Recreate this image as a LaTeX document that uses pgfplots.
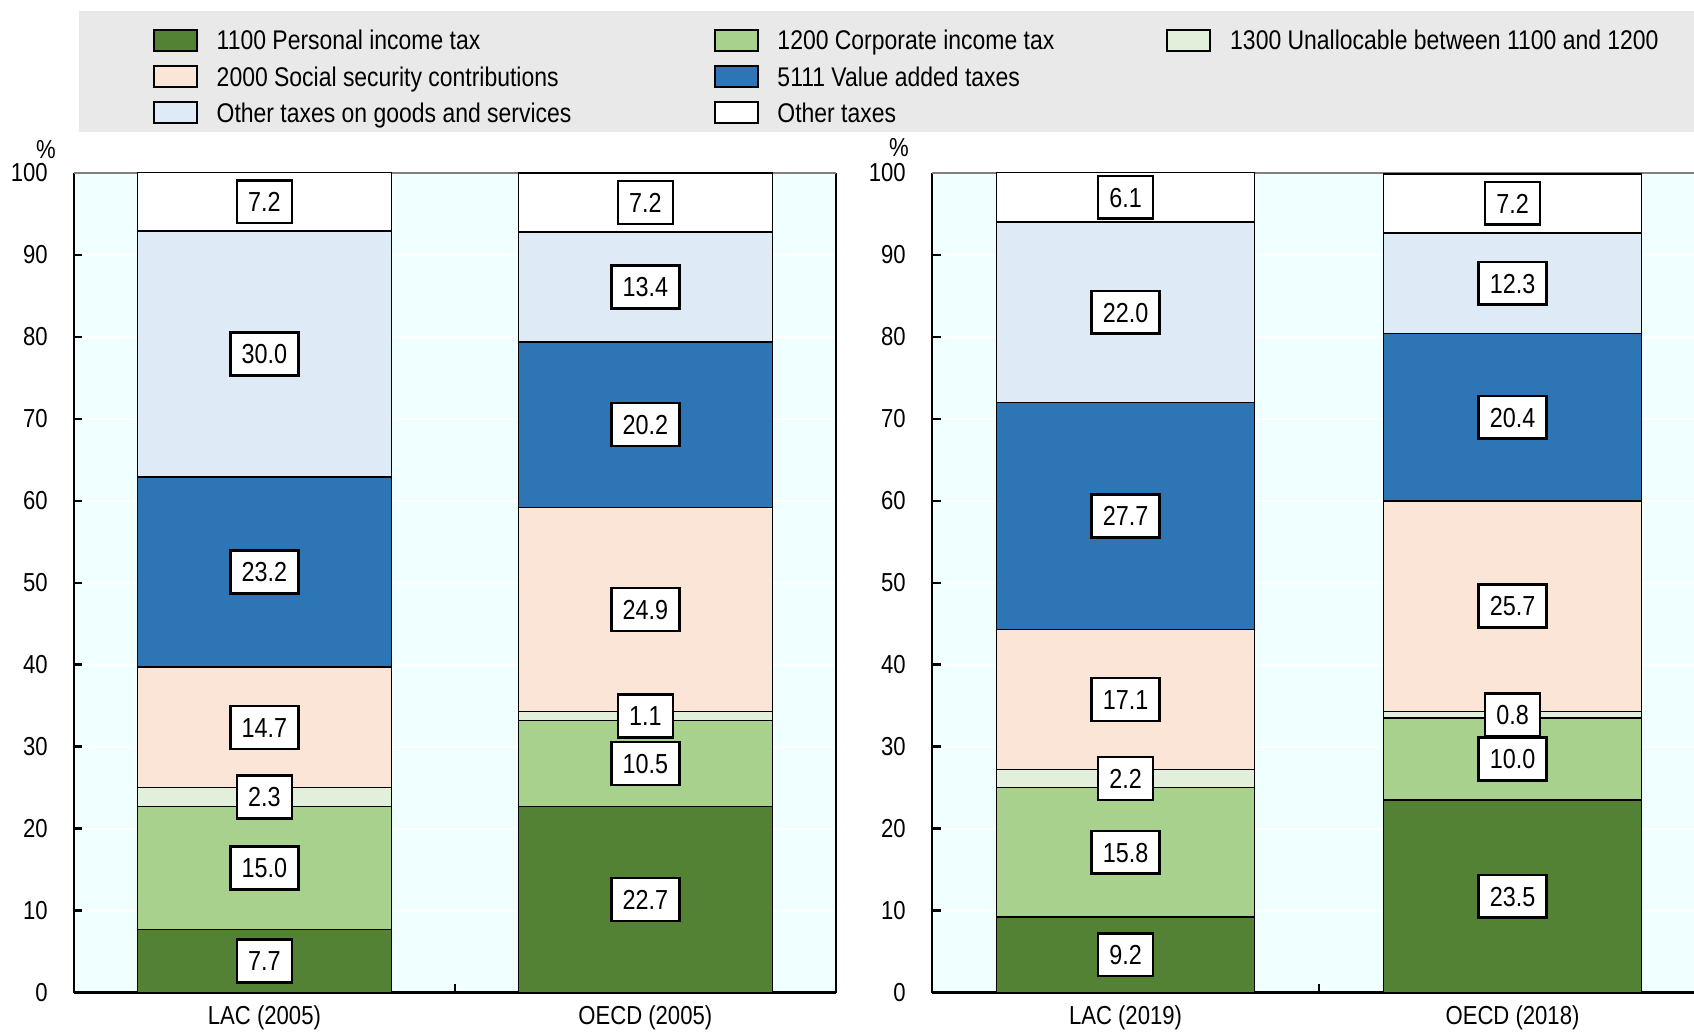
\documentclass[border=0pt]{standalone}
\usepackage{fontspec}
\setmainfont{Liberation Sans}[FakeStretch=0.85]
\usepackage{pgfplots}
\usepackage{pgfplotstable}
\pgfplotsset{compat=1.18}

\definecolor{cA}{RGB}{84,130,53}
\definecolor{cB}{RGB}{169,209,142}
\definecolor{cC}{RGB}{226,239,218}
\definecolor{cD}{RGB}{251,229,214}
\definecolor{cE}{RGB}{46,117,182}
\definecolor{cF}{RGB}{222,235,247}
\definecolor{cG}{RGB}{255,255,255}
\definecolor{bgc}{RGB}{240,255,255}
\definecolor{leggray}{RGB}{233,233,233}

\pgfplotstableread{
x pit cit unal ssc vat ogs oth
0 7.7 15.0 2.3 14.7 23.2 30.0 7.2
1 22.7 10.5 1.1 24.9 20.2 13.4 7.2
}\leftdata
\pgfplotstableread{
x pit cit unal ssc vat ogs oth
0 9.2 15.8 2.2 17.1 27.7 22.0 6.1
1 23.5 10.0 0.8 25.7 20.4 12.3 7.2
}\rightdata

\newcommand{\LE}[2]{\makebox[#1][l]{\rule[-2.5pt]{0pt}{10.5pt}#2}}

\pgfplotsset{
  panel/.style={
    scale only axis, height=327.8pt,
    ymin=0, ymax=100, ytick={0,10,...,100},
    axis x line*=bottom, axis y line*=left,
    axis line style={line width=1pt, black},
    tick align=inside, major tick length=3.4pt,
    tick style={black, line width=1pt},
    ymajorgrids, grid style={white, line width=0.8pt},
    axis background/.style={fill=bgc},
    clip mode=individual,
    ybar stacked, bar width=0.667,
    xtick={0.5}, xticklabels={},
    extra x ticks={0,1},
    extra x tick style={grid=none, major tick length=0pt, tick style={draw=none}, xticklabel style={yshift=-1.8pt}},
    tick label style={font=\fontsize{10.4}{12}\selectfont},
    /pgf/number format/assume math mode=true,
    yticklabel style={xshift=-7pt},
  },
  labs/.style={
    scale only axis, height=327.8pt,
    ymin=0, ymax=100, hide axis, clip=false,
    ybar stacked, bar width=0.667,
    point meta=explicit,
    /pgf/number format/assume math mode=true,
    nodes near coords={\pgfmathprintnumber[fixed,fixed zerofill,precision=1,assume math mode=true]{\pgfplotspointmeta}},
    every node near coord/.append style={anchor=center, draw=black, line width=1pt, fill=white, inner xsep=4.5pt, inner ysep=4.6pt, text height=7.9pt, text depth=0pt, font=\fontsize{11}{13}\selectfont, text=black},
  },
  seg/.style={fill=#1, draw=black, line width=0.6pt, forget plot},
  lab/.style={draw=none, fill=none},
  sw/.style={legend image code/.code={\draw[fill=#1, draw=black, line width=0.8pt] (0pt,-3.6pt) rectangle (17.2pt,4.8pt);}},
}

\begin{document}
\begin{tikzpicture}
\useasboundingbox (0,0) rectangle (677.6pt,413.2pt);
\fill[leggray] (31.6pt,360.4pt) rectangle (677.6pt,408.8pt);

% ---------- left panel bars ----------
\begin{axis}[panel, width=304.7pt, at={(29.6pt,16.2pt)}, anchor=south west,
  xmin=-0.5, xmax=1.5,
  extra x tick labels={LAC (2005), OECD (2005)},
  legend columns=3,
  legend cell align=left,
  legend style={at={(axis description cs:0.1037,1.176)}, anchor=north west,
    draw=none, fill=none, inner sep=0pt, outer sep=0pt,
    font=\fontsize{10.8}{12}\selectfont,
    column sep=0pt, row sep=4.5pt,
    nodes={inner sep=0pt, outer sep=0pt},
    /tikz/every odd column/.append style={column sep=7.5pt}},
]
\addlegendimage{sw=cA}\addlegendentry{\LE{198.8pt}{1100 Personal income tax}}
\addlegendimage{sw=cB}\addlegendentry{\LE{155.6pt}{1200 Corporate income tax}}
\addlegendimage{sw=cC}\addlegendentry{1300 Unallocable between 1100 and 1200}
\addlegendimage{sw=cD}\addlegendentry{\LE{198.8pt}{2000 Social security contributions}}
\addlegendimage{sw=cE}\addlegendentry{\LE{155.6pt}{5111 Value added taxes}}
\addlegendimage{empty legend}\addlegendentry{}
\addlegendimage{sw=cF}\addlegendentry{\LE{198.8pt}{Other taxes on goods and services}}
\addlegendimage{sw=cG}\addlegendentry{\LE{155.6pt}{Other taxes}}

\addplot[seg=cA] table[x=x, y=pit] {\leftdata};
\addplot[seg=cB] table[x=x, y=cit] {\leftdata};
\addplot[seg=cC] table[x=x, y=unal] {\leftdata};
\addplot[seg=cD] table[x=x, y=ssc] {\leftdata};
\addplot[seg=cE] table[x=x, y=vat] {\leftdata};
\addplot[seg=cF] table[x=x, y=ogs] {\leftdata};
\addplot[seg=cG] table[x=x, y=oth] {\leftdata};
\draw[gray, line width=0.8pt] (rel axis cs:0,1) -- (rel axis cs:1,1);
\draw[black, line width=1pt] (rel axis cs:1,0) -- (rel axis cs:1,1);
\node[font=\fontsize{10.4}{12}\selectfont] at (axis description cs:-0.0368,1.028) {\%};
\end{axis}

\begin{axis}[labs, width=304.7pt, at={(29.6pt,16.2pt)}, anchor=south west, xmin=-0.5, xmax=1.5]
\addplot[lab] table[x=x, y=pit, meta=pit] {\leftdata};
\addplot[lab] table[x=x, y=cit, meta=cit] {\leftdata};
\addplot[lab] table[x=x, y=unal, meta=unal] {\leftdata};
\addplot[lab] table[x=x, y=ssc, meta=ssc] {\leftdata};
\addplot[lab] table[x=x, y=vat, meta=vat] {\leftdata};
\addplot[lab] table[x=x, y=ogs, meta=ogs] {\leftdata};
\addplot[lab] table[x=x, y=oth, meta=oth] {\leftdata};
\end{axis}

% ---------- right panel bars ----------
\begin{axis}[panel, width=304.8pt, at={(372.8pt,16.2pt)}, anchor=south west,
  xmin=-0.5, xmax=1.469,
  extra x tick labels={LAC (2019), OECD (2018)},
]
\addplot[seg=cA] table[x=x, y=pit] {\rightdata};
\addplot[seg=cB] table[x=x, y=cit] {\rightdata};
\addplot[seg=cC] table[x=x, y=unal] {\rightdata};
\addplot[seg=cD] table[x=x, y=ssc] {\rightdata};
\addplot[seg=cE] table[x=x, y=vat] {\rightdata};
\addplot[seg=cF] table[x=x, y=ogs] {\rightdata};
\addplot[seg=cG] table[x=x, y=oth] {\rightdata};
\draw[gray, line width=0.8pt] (rel axis cs:0,1) -- (rel axis cs:1,1);
\node[font=\fontsize{10.4}{12}\selectfont] at (axis description cs:-0.0433,1.0305) {\%};
\end{axis}

\begin{axis}[labs, width=304.8pt, at={(372.8pt,16.2pt)}, anchor=south west, xmin=-0.5, xmax=1.469]
\addplot[lab] table[x=x, y=pit, meta=pit] {\rightdata};
\addplot[lab] table[x=x, y=cit, meta=cit] {\rightdata};
\addplot[lab] table[x=x, y=unal, meta=unal] {\rightdata};
\addplot[lab] table[x=x, y=ssc, meta=ssc] {\rightdata};
\addplot[lab] table[x=x, y=vat, meta=vat] {\rightdata};
\addplot[lab] table[x=x, y=ogs, meta=ogs] {\rightdata};
\addplot[lab] table[x=x, y=oth, meta=oth] {\rightdata};
\end{axis}
\end{tikzpicture}
\end{document}
